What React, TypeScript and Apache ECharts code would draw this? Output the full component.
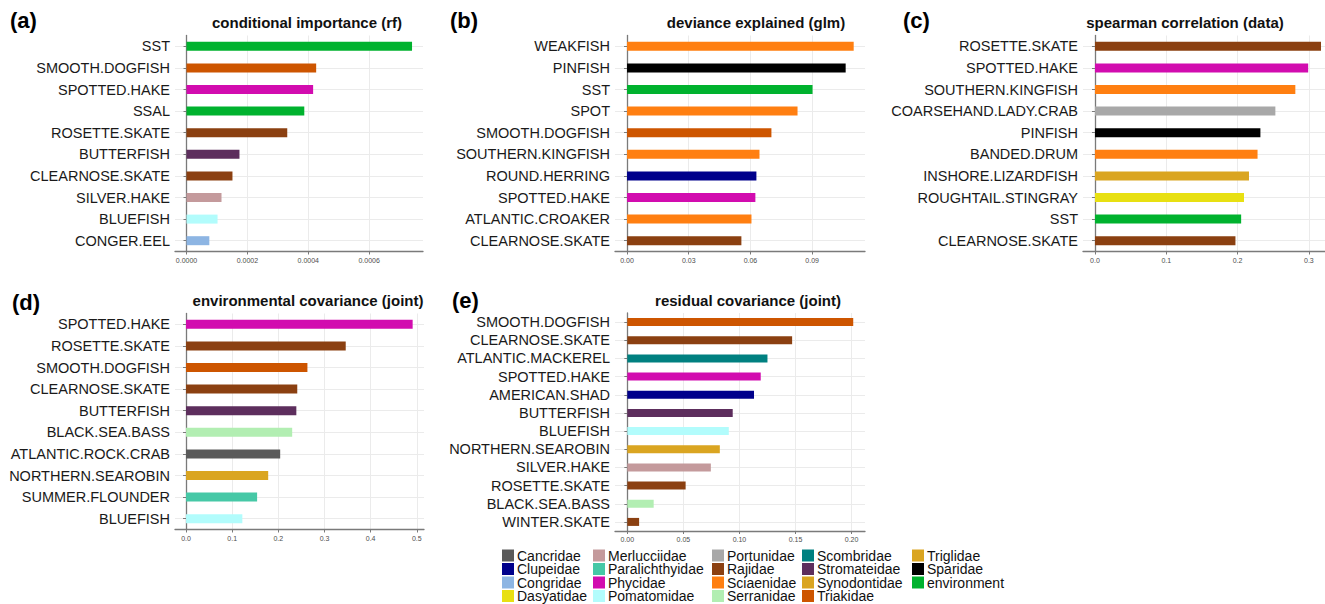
import React, { useEffect, useRef } from "react";
import * as echarts from "echarts";

// ---------- data ----------
const aCats = ["SST", "SMOOTH.DOGFISH", "SPOTTED.HAKE", "SSAL", "ROSETTE.SKATE", "BUTTERFISH", "CLEARNOSE.SKATE", "SILVER.HAKE", "BLUEFISH", "CONGER.EEL"];
const aVals = [0.000741, 0.000426, 0.000416, 0.000387, 0.000331, 0.000174, 0.000151, 0.000115, 0.000102, 0.000075];
const aTicks = [0, 0.0002, 0.0004, 0.0006];

const bCats = ["WEAKFISH", "PINFISH", "SST", "SPOT", "SMOOTH.DOGFISH", "SOUTHERN.KINGFISH", "ROUND.HERRING", "SPOTTED.HAKE", "ATLANTIC.CROAKER", "CLEARNOSE.SKATE"];
const bVals = [0.1102, 0.1063, 0.0902, 0.0829, 0.0702, 0.0644, 0.0629, 0.0624, 0.0605, 0.0556];
const bTicks = [0, 0.03, 0.06, 0.09];

const cCats = ["ROSETTE.SKATE", "SPOTTED.HAKE", "SOUTHERN.KINGFISH", "COARSEHAND.LADY.CRAB", "PINFISH", "BANDED.DRUM", "INSHORE.LIZARDFISH", "ROUGHTAIL.STINGRAY", "SST", "CLEARNOSE.SKATE"];
const cVals = [0.317, 0.299, 0.281, 0.253, 0.232, 0.228, 0.216, 0.209, 0.205, 0.197];
const cTicks = [0, 0.1, 0.2, 0.3];

const dCats = ["SPOTTED.HAKE", "ROSETTE.SKATE", "SMOOTH.DOGFISH", "CLEARNOSE.SKATE", "BUTTERFISH", "BLACK.SEA.BASS", "ATLANTIC.ROCK.CRAB", "NORTHERN.SEAROBIN", "SUMMER.FLOUNDER", "BLUEFISH"];
const dVals = [0.491, 0.346, 0.263, 0.241, 0.239, 0.23, 0.204, 0.178, 0.154, 0.122];
const dTicks = [0, 0.1, 0.2, 0.3, 0.4, 0.5];

const eCats = ["SMOOTH.DOGFISH", "CLEARNOSE.SKATE", "ATLANTIC.MACKEREL", "SPOTTED.HAKE", "AMERICAN.SHAD", "BUTTERFISH", "BLUEFISH", "NORTHERN.SEAROBIN", "SILVER.HAKE", "ROSETTE.SKATE", "BLACK.SEA.BASS", "WINTER.SKATE"];
const eVals = [0.2015, 0.147, 0.125, 0.119, 0.113, 0.094, 0.0905, 0.0825, 0.0745, 0.052, 0.0235, 0.0105];
const eTicks = [0, 0.05, 0.1, 0.15, 0.2];

const panelTitles = ["conditional importance (rf)", "deviance explained (glm)", "spearman correlation (data)", "environmental covariance (joint)", "residual covariance (joint)"];
const panelTags = ["(a)", "(b)", "(c)", "(d)", "(e)"];

// legend (column-major order as in the figure)
const legendFamilies = [
  "Cancridae", "Clupeidae", "Congridae", "Dasyatidae",
  "Merlucciidae", "Paralichthyidae", "Phycidae", "Pomatomidae",
  "Portunidae", "Rajidae", "Sciaenidae", "Serranidae",
  "Scombridae", "Stromateidae", "Synodontidae", "Triakidae",
  "Triglidae", "Sparidae", "environment",
];
const familyColors: Record<string, string> = {
  Cancridae: "#5a5a5a",
  Clupeidae: "#00008b",
  Congridae: "#8db5e3",
  Dasyatidae: "#e8e012",
  Merlucciidae: "#c49a9c",
  Paralichthyidae: "#46c8a6",
  Phycidae: "#d20caf",
  Pomatomidae: "#b2fcfc",
  Portunidae: "#a8a8a8",
  Rajidae: "#8b4011",
  Sciaenidae: "#ff7f11",
  Serranidae: "#b2eeb2",
  Scombridae: "#008080",
  Stromateidae: "#5d2e5d",
  Synodontidae: "#daa521",
  Triakidae: "#cd5500",
  Triglidae: "#daa521",
  Sparidae: "#000000",
  environment: "#00b22e",
};
const speciesFamily: Record<string, string> = {
  SST: "environment", SSAL: "environment",
  "SMOOTH.DOGFISH": "Triakidae",
  "SPOTTED.HAKE": "Phycidae",
  "ROSETTE.SKATE": "Rajidae", "CLEARNOSE.SKATE": "Rajidae", "WINTER.SKATE": "Rajidae",
  BUTTERFISH: "Stromateidae",
  "SILVER.HAKE": "Merlucciidae",
  BLUEFISH: "Pomatomidae",
  "CONGER.EEL": "Congridae",
  WEAKFISH: "Sciaenidae", SPOT: "Sciaenidae", "SOUTHERN.KINGFISH": "Sciaenidae", "ATLANTIC.CROAKER": "Sciaenidae", "BANDED.DRUM": "Sciaenidae",
  PINFISH: "Sparidae",
  "ROUND.HERRING": "Clupeidae", "AMERICAN.SHAD": "Clupeidae",
  "COARSEHAND.LADY.CRAB": "Portunidae",
  "INSHORE.LIZARDFISH": "Synodontidae",
  "ROUGHTAIL.STINGRAY": "Dasyatidae",
  "BLACK.SEA.BASS": "Serranidae",
  "ATLANTIC.ROCK.CRAB": "Cancridae",
  "NORTHERN.SEAROBIN": "Triglidae",
  "SUMMER.FLOUNDER": "Paralichthyidae",
  "ATLANTIC.MACKEREL": "Scombridae",
};

// ---------- layout ----------
const FONT = "'Liberation Sans', Arial, Helvetica, sans-serif";
const layouts = [
  { left: 175, width: 248, top: 35.5, height: 216, min: -0.0000378, max: 0.000777, dec: 4, tx: 307, ty: 22, gx: 10, gy: 20, bw: 9 },
  { left: 615, width: 250, top: 35.5, height: 216, min: -0.00585, max: 0.1157, dec: 2, tx: 756, ty: 22, gx: 450, gy: 20, bw: 9 },
  { left: 1083, width: 242, top: 35.5, height: 216, min: -0.0168, max: 0.3226, dec: 1, tx: 1185, ty: 22, gx: 903, gy: 20, bw: 9 },
  { left: 175, width: 249, top: 313.5, height: 216, min: -0.0239, max: 0.5156, dec: 1, tx: 308, ty: 300, gx: 12, gy: 302, bw: 9 },
  { left: 615, width: 250, top: 313, height: 218, min: -0.011, max: 0.212, dec: 2, tx: 748, ty: 300, gx: 452, gy: 300, bw: 8 },
];
const legendCols = [502, 593, 712, 802, 912];
const legendRows = [555.5, 569, 582.5, 596];

export default function App() {
  const ref = useRef<HTMLDivElement>(null);
  useEffect(() => {
    if (!ref.current) return;
    const chart = echarts.init(ref.current, null, { renderer: "svg" });
    const panels = [
      { cats: aCats, vals: aVals, ticks: aTicks },
      { cats: bCats, vals: bVals, ticks: bTicks },
      { cats: cCats, vals: cVals, ticks: cTicks },
      { cats: dCats, vals: dVals, ticks: dTicks },
      { cats: eCats, vals: eVals, ticks: eTicks },
    ];
    const grid: any[] = [];
    const xAxis: any[] = [];
    const yAxis: any[] = [];
    const series: any[] = [];
    const graphic: any[] = [];
    panels.forEach((p, i) => {
      const L = layouts[i];
      grid.push({ left: L.left, top: L.top, width: L.width, height: L.height, containLabel: false });
      xAxis.push({
        type: "value",
        gridIndex: i,
        min: L.min,
        max: L.max,
        axisLine: { show: true, onZero: false, lineStyle: { color: "#7a7a7a", width: 1.3 } },
        axisTick: { show: true, length: 3, customValues: p.ticks, lineStyle: { color: "#7a7a7a", width: 1 } },
        axisLabel: {
          show: true,
          customValues: p.ticks,
          margin: 5,
          fontSize: 7,
          fontFamily: FONT,
          color: "#4d4d4d",
          formatter: (v: number) => Number(v).toFixed(L.dec),
        },
        splitLine: { show: true, lineStyle: { color: "#ebebeb", width: 1 } },
      });
      yAxis.push({
        type: "category",
        gridIndex: i,
        inverse: true,
        data: p.cats,
        axisLine: { show: true, lineStyle: { color: "#7a7a7a", width: 1.3 } },
        axisTick: { show: true, alignWithLabel: true, length: 3, lineStyle: { color: "#7a7a7a", width: 1 } },
        axisLabel: { margin: 5, fontSize: 14.5, fontFamily: FONT, color: "#1a1a1a", interval: 0 },
        splitLine: { show: true, alignWithLabel: true, lineStyle: { color: "#ebebeb", width: 1 } },
      });
      series.push({
        type: "bar",
        xAxisIndex: i,
        yAxisIndex: i,
        barWidth: L.bw,
        data: p.vals.map((v, k) => ({
          value: v,
          itemStyle: { color: familyColors[speciesFamily[p.cats[k]]] },
        })),
      });
      graphic.push({
        type: "text",
        x: L.tx,
        y: L.ty,
        style: {
          text: panelTitles[i],
          font: `bold 15px ${FONT}`,
          fill: "#111",
          align: "center",
          textAlign: "center",
          verticalAlign: "middle",
          textVerticalAlign: "middle",
        },
      });
      graphic.push({
        type: "text",
        x: L.gx,
        y: L.gy,
        style: {
          text: panelTags[i],
          font: `bold 22px ${FONT}`,
          fill: "#000",
          align: "left",
          textAlign: "left",
          verticalAlign: "middle",
          textVerticalAlign: "middle",
        },
      });
    });
    legendFamilies.forEach((f, idx) => {
      const col = Math.floor(idx / 4);
      const row = idx % 4;
      const x = legendCols[col];
      const y = legendRows[row];
      graphic.push({
        type: "rect",
        shape: { x, y: y - 6, width: 12, height: 12 },
        style: { fill: familyColors[f] },
      });
      graphic.push({
        type: "text",
        x: x + 15,
        y,
        style: {
          text: f,
          font: `14px ${FONT}`,
          fill: "#111",
          align: "left",
          textAlign: "left",
          verticalAlign: "middle",
          textVerticalAlign: "middle",
        },
      });
    });
    chart.setOption({
      animation: false,
      backgroundColor: "#ffffff",
      grid,
      xAxis,
      yAxis,
      series,
      graphic,
    });
    return () => chart.dispose();
  }, []);
  return <div ref={ref} style={{ position: "absolute", left: 0, top: 0, width: 1325, height: 604 }} />;
}
